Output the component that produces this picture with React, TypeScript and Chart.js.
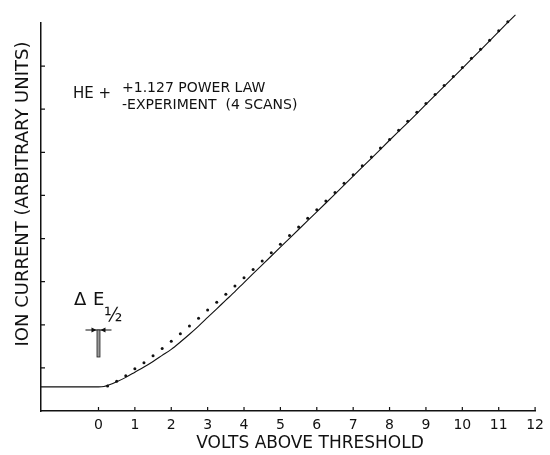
import { useEffect, useRef } from "react";
import { Chart, registerables } from "chart.js";

Chart.register(...registerables);

const xTickValues = [0, 1, 2, 3, 4, 5, 6, 7, 8, 9, 10, 11, 12];
const yTickValues = [1, 2, 3, 4, 5, 6, 7, 8];
const xMin = -1.58;
const xMax = 12;
const yMin = 0;
const yMax = 9;

// Experiment (4 scans) - solid line
const experimentX = [-1.58, -1.0, -0.5, 0, 0.15, 0.3, 0.5, 0.75, 1.0, 1.25, 1.5, 1.75, 2.0, 2.25, 2.5, 2.75, 3.0, 3.25, 3.5, 3.75, 4.0, 4.5, 5.0, 5.5, 6.0, 6.5, 7.0, 7.5, 8.0, 8.5, 9.0, 9.5, 10.0, 10.5, 11.0, 11.46];
const experimentY = [0.56, 0.56, 0.56, 0.56, 0.57, 0.61, 0.68, 0.78, 0.9, 1.02, 1.15, 1.29, 1.43, 1.6, 1.78, 1.97, 2.17, 2.37, 2.57, 2.77, 2.98, 3.39, 3.8, 4.21, 4.62, 5.03, 5.45, 5.86, 6.28, 6.69, 7.11, 7.53, 7.95, 8.37, 8.8, 9.19];

// 1.127 power law - dotted points
const powerLawX = [0.25, 0.5, 0.75, 1.0, 1.25, 1.5, 1.75, 2.0, 2.25, 2.5, 2.75, 3.0, 3.25, 3.5, 3.75, 4.0, 4.25, 4.5, 4.75, 5.0, 5.25, 5.5, 5.75, 6.0, 6.25, 6.5, 6.75, 7.0, 7.25, 7.5, 7.75, 8.0, 8.25, 8.5, 8.75, 9.0, 9.25, 9.5, 9.75, 10.0, 10.25, 10.5, 10.75, 11.0, 11.25, 11.5];
const powerLawY = [0.58, 0.69, 0.82, 0.98, 1.12, 1.28, 1.45, 1.62, 1.79, 1.97, 2.15, 2.34, 2.52, 2.71, 2.9, 3.09, 3.28, 3.48, 3.67, 3.87, 4.07, 4.27, 4.47, 4.67, 4.87, 5.07, 5.28, 5.48, 5.69, 5.89, 6.1, 6.3, 6.51, 6.72, 6.93, 7.13, 7.34, 7.55, 7.76, 7.97, 8.18, 8.39, 8.6, 8.82, 9.03, 9.22];

const xTitle = "VOLTS ABOVE THRESHOLD";
const yTitle = "ION CURRENT (ARBITRARY UNITS)";
const speciesLabel = "HE +";
const legendLines = ["+1.127 POWER LAW", "-EXPERIMENT  (4 SCANS)"];

const INK = "#111";
const FONT = "'DejaVu Sans', sans-serif";

const decorPlugin = {
  id: "decor",
  afterDraw(chart: any) {
    const ctx: CanvasRenderingContext2D = chart.ctx;
    const xs = chart.scales.x;
    const ys = chart.scales.y;
    const area = chart.chartArea;
    ctx.save();
    ctx.strokeStyle = INK;
    ctx.fillStyle = INK;
    ctx.lineWidth = 1.2;
    // inward tick marks
    ctx.beginPath();
    for (const v of xTickValues) {
      const px = xs.getPixelForValue(v);
      ctx.moveTo(px, area.bottom);
      ctx.lineTo(px, area.bottom - 4);
    }
    for (const v of yTickValues) {
      const py = ys.getPixelForValue(v);
      ctx.moveTo(area.left, py);
      ctx.lineTo(area.left + 4, py);
    }
    ctx.stroke();

    // axis titles
    ctx.font = `17px ${FONT}`;
    ctx.textAlign = "center";
    ctx.textBaseline = "middle";
    ctx.fillText(xTitle, 310, 444);
    ctx.save();
    ctx.translate(23, 194);
    ctx.rotate(-Math.PI / 2);
    ctx.font = `18px ${FONT}`;
    ctx.fillText(yTitle, 0, 0);
    ctx.restore();

    // legend text
    ctx.textAlign = "left";
    ctx.textBaseline = "alphabetic";
    ctx.font = `15px ${FONT}`;
    ctx.fillText(speciesLabel, 73, 98);
    ctx.font = `14px ${FONT}`;
    ctx.fillText(legendLines[0], 122, 92);
    ctx.fillText(legendLines[1], 122, 109);

    // Delta E 1/2 annotation
    const x0 = xs.getPixelForValue(0);
    ctx.font = `18px ${FONT}`;
    ctx.fillText("\u0394", 74, 305);
    ctx.fillText("E", 93, 305);
    ctx.font = `19px ${FONT}`;
    ctx.fillText("\u00BD", 104, 321);

    const yBar = 330;
    ctx.lineWidth = 1;
    ctx.beginPath();
    ctx.moveTo(x0 - 13, yBar);
    ctx.lineTo(x0 + 13, yBar);
    ctx.stroke();
    // arrowheads
    ctx.beginPath();
    ctx.moveTo(x0 - 2, yBar);
    ctx.lineTo(x0 - 7, yBar - 2.5);
    ctx.lineTo(x0 - 7, yBar + 2.5);
    ctx.closePath();
    ctx.moveTo(x0 + 2, yBar);
    ctx.lineTo(x0 + 7, yBar - 2.5);
    ctx.lineTo(x0 + 7, yBar + 2.5);
    ctx.closePath();
    ctx.fill();
    // vertical bar
    ctx.fillStyle = "#999";
    ctx.fillRect(x0 - 1.5, yBar, 3, 27);
    ctx.strokeStyle = "#222";
    ctx.lineWidth = 0.8;
    ctx.strokeRect(x0 - 1.5, yBar, 3, 27);
    ctx.restore();
  },
};

export default function App() {
  const canvasRef = useRef<HTMLCanvasElement | null>(null);

  useEffect(() => {
    if (!canvasRef.current) return;
    const chart = new Chart(canvasRef.current, {
      type: "scatter",
      data: {
        datasets: [
          {
            label: "Experiment (4 scans)",
            data: experimentX.map((x, i) => ({ x, y: experimentY[i] })),
            showLine: true,
            borderColor: INK,
            borderWidth: 1.1,
            pointRadius: 0,
            tension: 0.3,
            clip: false as any,
          },
          {
            label: "1.127 power law",
            data: powerLawX.map((x, i) => ({ x, y: powerLawY[i] })),
            showLine: false,
            pointRadius: 1.5,
            pointStyle: "circle",
            backgroundColor: INK,
            borderColor: INK,
            borderWidth: 0,
            clip: false as any,
          },
        ],
      },
      options: {
        animation: false,
        responsive: false,
        devicePixelRatio: 1,
        layout: { padding: { top: 23, right: 10, left: 0, bottom: 0 } },
        plugins: { legend: { display: false }, tooltip: { enabled: false } },
        scales: {
          x: {
            type: "linear",
            min: xMin,
            max: xMax,
            afterBuildTicks: (s: any) => {
              s.ticks = xTickValues.map((v) => ({ value: v }));
            },
            afterFit: (s: any) => {
              s.height = 44;
            },
            ticks: {
              autoSkip: false,
              maxRotation: 0,
              padding: 6,
              color: INK,
              font: { family: FONT, size: 14 },
              callback: (v: any) => String(v),
            },
            grid: { display: false, drawTicks: false },
            border: { display: true, color: INK, width: 1.5 },
          },
          y: {
            type: "linear",
            min: yMin,
            max: yMax,
            afterBuildTicks: (s: any) => {
              s.ticks = yTickValues.map((v) => ({ value: v }));
            },
            afterFit: (s: any) => {
              s.width = 41;
            },
            ticks: { display: false },
            grid: { display: false, drawTicks: false },
            border: { display: true, color: INK, width: 1.5 },
          },
        },
      },
      plugins: [decorPlugin],
    });
    return () => chart.destroy();
  }, []);

  return (
    <div style={{ position: "fixed", left: 0, top: 0, width: 550, height: 455, background: "#fff" }}>
      <canvas ref={canvasRef} width={550} height={455} />
    </div>
  );
}
